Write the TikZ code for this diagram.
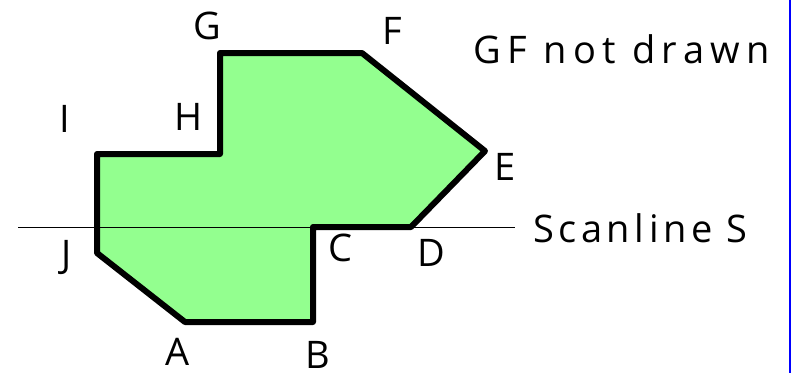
\documentclass[tikz,border=0pt]{standalone}
\usepackage{fontspec}
\setmainfont{Open Sans}
\begin{document}
\begin{tikzpicture}[x=1pt,y=-1pt,
  lbl/.style={inner sep=0pt,font=\fontsize{38}{38}\selectfont},
  note/.style={inner sep=0pt,font=\fontsize{38}{38}\selectfont\addfontfeatures{LetterSpace=#1}},
  border/.style={line width=6pt,line join=round,draw=black},
  scan/.style={line width=1pt,draw=black}]
\definecolor{polyfill}{RGB}{147,255,143}
\definecolor{edgeblue}{RGB}{0,0,255}
\useasboundingbox (0,0) rectangle (792,373);
\fill[white] (0,0) rectangle (792,373);
\draw[edgeblue,line width=1.6pt] (790.2,0) -- (790.2,373);
% vertices
\coordinate (A) at (185,322);
\coordinate (B) at (313,322);
\coordinate (C) at (313,227);
\coordinate (D) at (411,227);
\coordinate (E) at (485,151);
\coordinate (F) at (362,53);
\coordinate (G) at (220,53);
\coordinate (H) at (220,154);
\coordinate (I) at (97,154);
\coordinate (J) at (97,253);
\coordinate (sL) at (18,227);
\coordinate (sR) at (515,227);
\fill[polyfill] (A) -- (B) -- (C) -- (D) -- (E) -- (F) -- (G) -- (H) -- (I) -- (J) -- cycle;
\draw[scan] (sL) -- (sR);
\draw[border] (A) -- (B) -- (C) -- (D) -- (E) -- (F) -- (G) -- (H) -- (I) -- (J) -- cycle;
% labels
\node[lbl] (lA) at (178,352) {A};
\node[lbl] (lB) at (318,355) {B};
\node[lbl] (lC) at (340,248) {C};
\node[lbl] (lD) at (431,253) {D};
\node[lbl] (lE) at (505,167) {E};
\node[lbl] (lF) at (392,31) {F};
\node[lbl] (lG) at (207,26) {G};
\node[lbl] (lH) at (189,117) {H};
\node[lbl] (lI) at (65,119) {I};
\node[lbl] (lJ) at (67,258) {J};
\node[note=17,anchor=west] (gf) at (473,49) {GF not drawn};
\node[note=12,anchor=west] (sc) at (533,228) {Scanline S};
\end{tikzpicture}
\end{document}
